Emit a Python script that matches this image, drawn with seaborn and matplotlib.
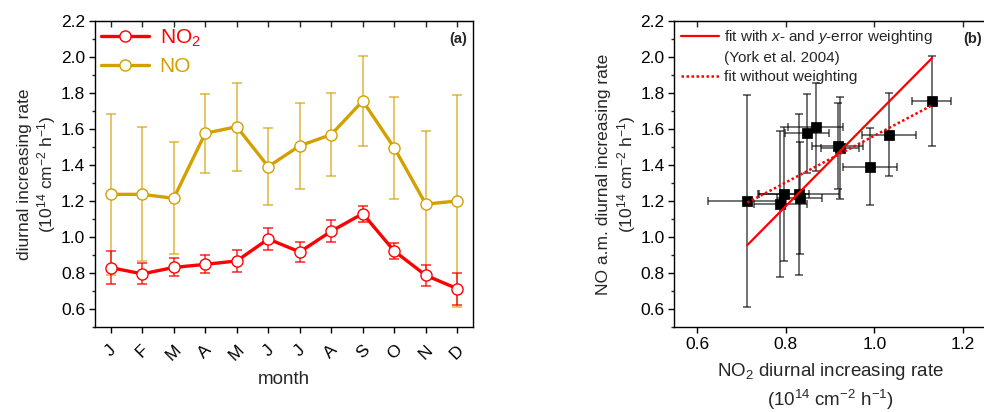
import matplotlib
matplotlib.use("Agg")
import matplotlib.pyplot as plt
import numpy as np
import pandas as pd
import seaborn as sns
from matplotlib.lines import Line2D
from matplotlib.ticker import MultipleLocator

MONTHS = ["J", "F", "M", "A", "M", "J", "J", "A", "S", "O", "N", "D"]
NO2_RATE = [0.830, 0.795, 0.831, 0.848, 0.867, 0.989, 0.917, 1.032, 1.130, 0.922, 0.787, 0.713]
NO2_ERR = [0.090, 0.058, 0.050, 0.050, 0.063, 0.061, 0.057, 0.061, 0.044, 0.043, 0.060, 0.088]
NO_RATE = [1.237, 1.237, 1.215, 1.576, 1.613, 1.391, 1.507, 1.569, 1.756, 1.496, 1.183, 1.200]
NO_ERR = [0.446, 0.372, 0.311, 0.218, 0.245, 0.213, 0.240, 0.229, 0.250, 0.283, 0.405, 0.587]

# fit coefficients (slope, intercept)
YORK_FIT = (2.49, -0.820)
OLS_FIT = (1.297, 0.266)

RED = "#FF0000"
GOLD = "#D4A000"

sns.set_style("ticks")
plt.rcParams["font.family"] = ["Liberation Sans", "DejaVu Sans"]
plt.rcParams["mathtext.fontset"] = "custom"
plt.rcParams["mathtext.rm"] = "Liberation Sans"
plt.rcParams["mathtext.it"] = "Liberation Sans:italic"
plt.rcParams["mathtext.bf"] = "Liberation Sans:bold"

df = pd.DataFrame({
    "idx": np.arange(len(MONTHS)),
    "no2": NO2_RATE,
    "no2_err": NO2_ERR,
    "no": NO_RATE,
    "no_err": NO_ERR,
})

UNIT = "(10$^{14}$ cm$^{-2}$ h$^{-1}$)"

fig = plt.figure(figsize=(9.84, 4.12), dpi=100)
ax_a = fig.add_axes([0.0965, 0.2063, 0.3842, 0.7427])
ax_b = fig.add_axes([0.6853, 0.2063, 0.3170, 0.7427])


def style_axis(ax):
    for side in ("top", "right", "left", "bottom"):
        ax.spines[side].set_visible(True)
        ax.spines[side].set_color("black")
        ax.spines[side].set_linewidth(1.0)
    ax.tick_params(axis="both", which="major", direction="out", length=4,
                   width=1, labelsize=12.5, colors="black", pad=3)
    ax.tick_params(axis="y", which="minor", direction="out", length=2.5, width=1)
    ax.yaxis.set_major_locator(MultipleLocator(0.2))
    ax.yaxis.set_minor_locator(MultipleLocator(0.1))
    ax.set_ylim(0.5, 2.2)
    sec = ax.secondary_xaxis("top")
    sec.set_xticks(ax.get_xticks())
    sec.tick_params(direction="in", length=4, width=1, labeltop=False)
    return sec


# panel (a)
ax_a.errorbar(df["idx"], df["no"], yerr=df["no_err"], fmt="none",
              ecolor=GOLD, alpha=0.75, elinewidth=1.1, capsize=3.5, capthick=1.1, zorder=2)
ax_a.errorbar(df["idx"], df["no2"], yerr=df["no2_err"], fmt="none",
              ecolor=RED, alpha=0.85, elinewidth=1.1, capsize=3.5, capthick=1.1, zorder=2)
sns.lineplot(data=df, x="idx", y="no", ax=ax_a, color=GOLD, linewidth=2.4,
             marker="o", markersize=8, markerfacecolor="white",
             markeredgecolor=GOLD, markeredgewidth=1.0, zorder=3)
sns.lineplot(data=df, x="idx", y="no2", ax=ax_a, color=RED, linewidth=2.4,
             marker="o", markersize=8, markerfacecolor="white",
             markeredgecolor=RED, markeredgewidth=1.0, zorder=4)
ax_a.set_xlim(-0.5, len(MONTHS) - 0.5)
ax_a.set_xticks(df["idx"])
style_axis(ax_a)
ax_a.tick_params(axis="x", pad=7)
ax_a.set_xticklabels(MONTHS, rotation=45, fontsize=12.5)
ax_a.set_xlabel("month", fontsize=13.5, labelpad=6)
ax_a.set_ylabel("diurnal increasing rate\n" + UNIT, fontsize=12.5, labelpad=2)
ax_a.text(0.985, 0.965, "(a)", transform=ax_a.transAxes, ha="right", va="top",
          fontsize=10.5, fontweight="bold")

handles_a = [
    Line2D([], [], color=RED, lw=2.4, marker="o", ms=8, mfc="white", mec=RED, mew=1.0),
    Line2D([], [], color=GOLD, lw=2.4, marker="o", ms=8, mfc="white", mec=GOLD, mew=1.0),
]
leg_a = ax_a.legend(handles_a, ["NO$_2$", "NO"], loc="upper left", frameon=False,
                    fontsize=15, handlelength=2.3, handletextpad=0.5,
                    borderaxespad=0.0, borderpad=0.3, labelspacing=0.4)
for txt, col in zip(leg_a.get_texts(), (RED, GOLD)):
    txt.set_color(col)

# panel (b)
ax_b.errorbar(df["no2"], df["no"], xerr=df["no2_err"], yerr=df["no_err"], fmt="none",
              ecolor="black", alpha=0.7, elinewidth=1.1, capsize=3, capthick=1.1, zorder=2)
sns.scatterplot(data=df, x="no2", y="no", ax=ax_b, marker="s", s=42,
                color="black", edgecolor="black", zorder=3)
xfit = np.array([df["no2"].min(), df["no2"].max()])
york_line, = ax_b.plot(xfit, YORK_FIT[0] * xfit + YORK_FIT[1], color=RED, lw=1.6, zorder=4)
ols_line, = ax_b.plot(xfit, OLS_FIT[0] * xfit + OLS_FIT[1], color=RED, lw=1.8,
                      ls=(0, (1, 1)), zorder=4)
blank = Line2D([], [], color="none")
ax_b.set_xlim(0.548, 1.2527)
ax_b.set_xticks([0.6, 0.8, 1.0, 1.2])
style_axis(ax_b)
ax_b.set_xticklabels(["0.6", "0.8", "1.0", "1.2"])
ax_b.set_xlabel("NO$_2$ diurnal increasing rate\n" + UNIT, fontsize=13.5,
                labelpad=7, linespacing=1.3)
ax_b.set_ylabel("NO a.m. diurnal increasing rate\n" + UNIT, fontsize=12.5, labelpad=2)
ax_b.legend([york_line, blank, ols_line],
            ["fit with $\\it{x}$- and $\\it{y}$-error weighting",
             "(York et al. 2004)", "fit without weighting"],
            loc="upper left", frameon=False, fontsize=11, handlelength=2.5,
            handletextpad=0.3, borderaxespad=0.0, borderpad=0.45, labelspacing=0.33)
ax_b.text(0.985, 0.965, "(b)", transform=ax_b.transAxes, ha="right", va="top",
          fontsize=10.5, fontweight="bold")

fig.savefig("out.png", dpi=100)
